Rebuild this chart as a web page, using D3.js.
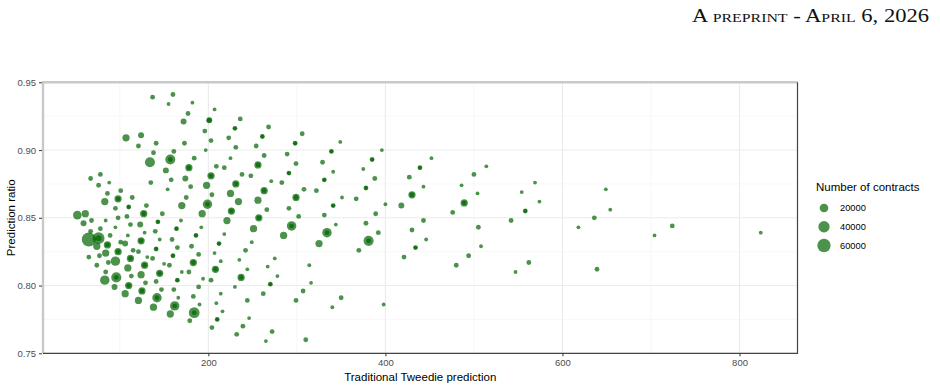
<!DOCTYPE html>
<html><head><meta charset="utf-8">
<script src="https://cdn.jsdelivr.net/npm/d3@7"></script>
<style>body{margin:0;background:#fff}svg{display:block}</style>
</head><body>
<svg id="c" width="940" height="390"></svg>
<script>
// ---- data ----
const tweedie = [137,160,155,182,177,207,172,201,107,124,
196,230,141,173,203,223,121,161,197,231,
138,134,157,184,225,152,178,209,218,67,
78,88,76,135,158,174,203,101,86,154,
180,198,231,98,83,114,175,225,130,110,
95,170,199,234,52,61,127,148,193,226,
108,98,59,68,84,95,112,123,143,164,
169,192,221,67,78,65,76,89,109,128,
140,159,186,218,74,86,101,106,124,145,
165,181,212,98,84,115,121,141,189,207,
65,77,95,112,131,137,160,183,214,74,
87,109,124,128,145,156,150,170,178,208,
84,83,96,113,129,141,165,194,203,94,
110,147,161,189,214,230,106,125,183,166,
121,142,190,209,138,162,157,184,216,179,
210,204,232,236,268,261,306,254,298,349,
263,289,339,396,256,299,329,385,238,248,
291,341,375,271,283,331,388,204,263,308,
322,378,351,367,256,299,400,266,291,341,
389,257,302,331,251,294,344,378,285,334,
392,249,325,381,370,242,235,275,314,267,
244,237,278,316,270,307,262,350,244,299,
340,398,246,239,272,265,310,452,514,439,
427,500,569,443,486,554,504,430,418,489,
574,476,558,443,430,542,505,636,618,446,
434,508,421,494,480,562,547,639,649,654,
704,724,824];
const ratio = [.939,.941,.934,.935,.927,.930,.921,.922,.909,.911,
.914,.916,.905,.905,.907,.909,.903,.899,.900,.902,
.898,.891,.893,.894,.894,.885,.887,.888,.887,.879,
.882,.876,.874,.876,.878,.879,.881,.870,.868,.871,
.873,.874,.875,.864,.862,.865,.865,.868,.859,.858,
.857,.859,.860,.862,.852,.853,.853,.853,.853,.855,
.851,.850,.846,.848,.848,.843,.845,.845,.847,.842,
.848,.843,.848,.840,.842,.834,.835,.837,.837,.839,
.840,.834,.837,.838,.829,.830,.832,.831,.833,.834,
.828,.829,.831,.825,.824,.826,.825,.827,.823,.824,
.821,.822,.818,.820,.821,.820,.822,.817,.818,.815,
.817,.813,.808,.815,.809,.815,.816,.810,.810,.812,
.810,.804,.806,.807,.802,.803,.804,.805,.804,.799,
.800,.797,.797,.799,.794,.799,.794,.796,.792,.791,
.789,.791,.786,.787,.784,.785,.779,.780,.781,.774,
.775,.769,.764,.923,.917,.910,.912,.903,.905,.906,
.896,.897,.899,.900,.889,.890,.891,.893,.882,.881,
.883,.884,.886,.877,.876,.878,.879,.867,.870,.871,
.870,.872,.865,.864,.863,.865,.860,.856,.857,.859,
.853,.850,.851,.852,.842,.844,.845,.846,.837,.839,
.839,.832,.831,.833,.826,.826,.819,.820,.815,.814,
.812,.806,.807,.802,.801,.796,.794,.791,.789,.789,
.784,.786,.776,.770,.766,.759,.760,.894,.888,.887,
.880,.882,.876,.873,.874,.869,.868,.867,.859,.861,
.862,.854,.855,.848,.841,.848,.843,.850,.843,.834,
.828,.829,.821,.822,.815,.817,.810,.812,.871,.856,
.837,.844,.839];
const contracts = [3000,3000,1000,1000,3000,1000,6500,6500,12000,6500,
3000,3000,3000,3000,3000,3000,3000,3000,1000,3000,
3000,29000,29000,3000,1000,6500,12000,3000,3000,3000,
3000,1000,3000,3000,3000,6500,12000,3000,3000,1000,
3000,12000,12000,12000,12000,3000,3000,12000,3000,3000,
3000,12000,25000,12000,20000,12000,12000,3000,12000,12000,
3000,3000,6500,3000,1000,1000,3000,6500,3000,3000,
1000,1000,12000,3000,3000,70000,45000,3000,1000,1000,
3000,3000,3000,1000,12000,12000,3000,6500,12000,1000,
3000,3000,3000,12000,12000,3000,3000,3000,3000,1000,
3000,3000,25000,12000,1000,3000,3000,12000,1000,3000,
3000,12000,12000,12000,12000,3000,1000,1000,3000,12000,
3000,25000,30000,3000,3000,3000,3000,1000,3000,6500,
12000,3000,3000,3000,1000,1000,12000,12000,3000,1000,
12000,25000,1000,1000,12000,25000,12000,35000,1000,3000,
3000,3000,3000,3000,3000,3000,3000,3000,3000,1000,
3000,3000,3000,1000,12000,3000,3000,3000,3000,3000,
3000,1000,1000,1000,3000,3000,3000,3000,12000,3000,
3000,3000,1000,3000,12000,12000,1000,3000,3000,3000,
3000,12000,3000,3000,12000,25000,1000,3000,12000,25000,
3000,1000,12000,30000,3000,3000,1000,1000,1000,1000,
1000,12000,1000,1000,3000,3000,3000,3000,3000,3000,
1000,1000,1000,3000,3000,1000,3000,1000,1000,3000,
3000,3000,1000,1000,1000,1000,1000,12000,6500,12000,
1000,3000,3000,3000,3000,3000,3000,3000,1000,1000,
3000,1000,3000,3000,3000,3000,1000,3000,1000,1000,
1000,3000,1000];
// second, smaller groups sitting on the same coordinates (overlaps)
const overlapTweedie = [201,230,157,178,203,231,98,110,199,127,226,143,164,76,186,86,124,212,98,141,
112,160,183,128,145,208,96,165,110,125,142,162,184,210,261,298,339,256,385,291,
331,263,378,299,341,257,294,334,381,237,270,439,430,489,558,434];
const overlapRatio = [.922,.916,.893,.887,.881,.875,.864,.858,.860,.853,.855,.847,.842,.835,.837,.830,.833,.831,.825,.827,
.820,.822,.817,.815,.809,.812,.806,.804,.800,.796,.791,.785,.780,.775,.910,.905,.899,.889,.893,.883,
.878,.870,.872,.865,.859,.850,.844,.839,.833,.806,.801,.887,.867,.861,.855,.828];
const overlapContracts = [3000,1000,3000,3000,3000,3000,3000,1000,3000,3000,3000,1000,1000,6500,1000,3000,3000,1000,3000,1000,
3000,1000,3000,3000,3000,3000,3000,1000,3000,3000,3000,3000,3000,1000,1000,1000,1000,3000,1000,1000,
1000,3000,1000,3000,1000,3000,3000,3000,3000,3000,1000,1000,3000,3000,1000,1000];

const xTicks = [200,400,600,800];
const xMinor = [100,300,500,700];
const yTicks = [0.75,0.80,0.85,0.90,0.95];
const yMinor = [0.775,0.825,0.875,0.925];
const legendValues = [20000,40000,60000];

// ---- layout ----
const svg = d3.select("#c");
const L = 43, R = 797.5, T = 82.3, B = 353.3;
const x = d3.scaleLinear().domain([13.2, 865.5]).range([L, R]);
const y = d3.scaleLinear().domain([0.75, 0.95]).range([B, T]);
const r = d3.scaleSqrt().domain([0, 60000]).range([1.2, 6.64]);
const fill = "#006400", alpha = 0.7;
const sans = "'Liberation Sans', Arial, sans-serif";

// header
svg.append("text").attr("x", 929).attr("y", 22).attr("text-anchor", "end")
  .attr("font-family", "'Liberation Serif','DejaVu Serif',serif").attr("font-size", 18.5)
  .attr("textLength", 237).attr("lengthAdjust", "spacingAndGlyphs")
  .style("font-variant", "small-caps").attr("fill", "#111")
  .text("A preprint - April 6, 2026");

// grid
const g = svg.append("g");
g.selectAll(".xm").data(xMinor).join("line")
  .attr("x1", d => x(d)).attr("x2", d => x(d)).attr("y1", T).attr("y2", B)
  .attr("stroke", "#f2f2f2").attr("stroke-width", 0.6);
g.selectAll(".ym").data(yMinor).join("line")
  .attr("x1", L).attr("x2", R).attr("y1", d => y(d)).attr("y2", d => y(d))
  .attr("stroke", "#f2f2f2").attr("stroke-width", 0.6);
g.selectAll(".xM").data(xTicks).join("line")
  .attr("x1", d => x(d)).attr("x2", d => x(d)).attr("y1", T).attr("y2", B)
  .attr("stroke", "#ebebeb").attr("stroke-width", 1.1);
g.selectAll(".yM").data(yTicks).join("line")
  .attr("x1", L).attr("x2", R).attr("y1", d => y(d)).attr("y2", d => y(d))
  .attr("stroke", "#ebebeb").attr("stroke-width", 1.1);

// points
const pts = tweedie.map((t, i) => ({t, p: ratio[i], n: contracts[i]}))
  .concat(overlapTweedie.map((t, i) => ({t, p: overlapRatio[i], n: overlapContracts[i]})));
svg.append("g").selectAll("circle").data(pts).join("circle")
  .attr("cx", d => x(d.t)).attr("cy", d => y(d.p)).attr("r", d => r(d.n))
  .attr("fill", fill).attr("fill-opacity", alpha);

// panel border: light on top/left, dark on bottom/right (as in the reference raster)
const bd = svg.append("g").attr("fill", "none");
bd.append("path").attr("d", `M${L},${B}V${T}H${R}`).attr("stroke", "#c9c9c9").attr("stroke-width", 2.4);
bd.append("path").attr("d", `M${L},${B}H${R}V${T}`).attr("stroke", "#444").attr("stroke-width", 1.2);

// axes
const xa = svg.append("g").attr("transform", `translate(0,${B})`)
  .call(d3.axisBottom(x).tickValues(xTicks).tickSize(3).tickPadding(3).tickFormat(d3.format("d")));
const ya = svg.append("g").attr("transform", `translate(${L - 1},0)`)
  .call(d3.axisLeft(y).tickValues(yTicks).tickSize(3).tickPadding(3).tickFormat(d3.format(".2f")));
[xa, ya].forEach(a => {
  a.select(".domain").remove();
  a.selectAll(".tick line").attr("stroke", "#333");
  a.selectAll(".tick text").attr("fill", "#4d4d4d").attr("font-family", sans).attr("font-size", 9.5);
});

// axis titles
svg.append("text").attr("x", (L + R) / 2).attr("y", 381).attr("text-anchor", "middle")
  .attr("font-family", sans).attr("font-size", 11.5).attr("fill", "#000")
  .text("Traditional Tweedie prediction");
svg.append("text").attr("transform", `translate(15,${(T + B) / 2}) rotate(-90)`)
  .attr("text-anchor", "middle").attr("font-family", sans).attr("font-size", 11.5).attr("fill", "#000")
  .text("Prediction ratio");

// legend
const lg = svg.append("g");
lg.append("text").attr("x", 816).attr("y", 191).attr("font-family", sans).attr("font-size", 11.5)
  .attr("fill", "#000").text("Number of contracts");
const ly = d3.scalePoint().domain(legendValues).range([208, 245.5]);
lg.selectAll("circle").data(legendValues).join("circle")
  .attr("cx", 824).attr("cy", d => ly(d)).attr("r", d => r(d))
  .attr("fill", fill).attr("fill-opacity", alpha);
lg.selectAll(".lt").data(legendValues).join("text")
  .attr("x", 840).attr("y", d => ly(d)).attr("dy", "0.35em")
  .attr("font-family", sans).attr("font-size", 9.3).attr("fill", "#000").text(d => d);
</script>
</body></html>
